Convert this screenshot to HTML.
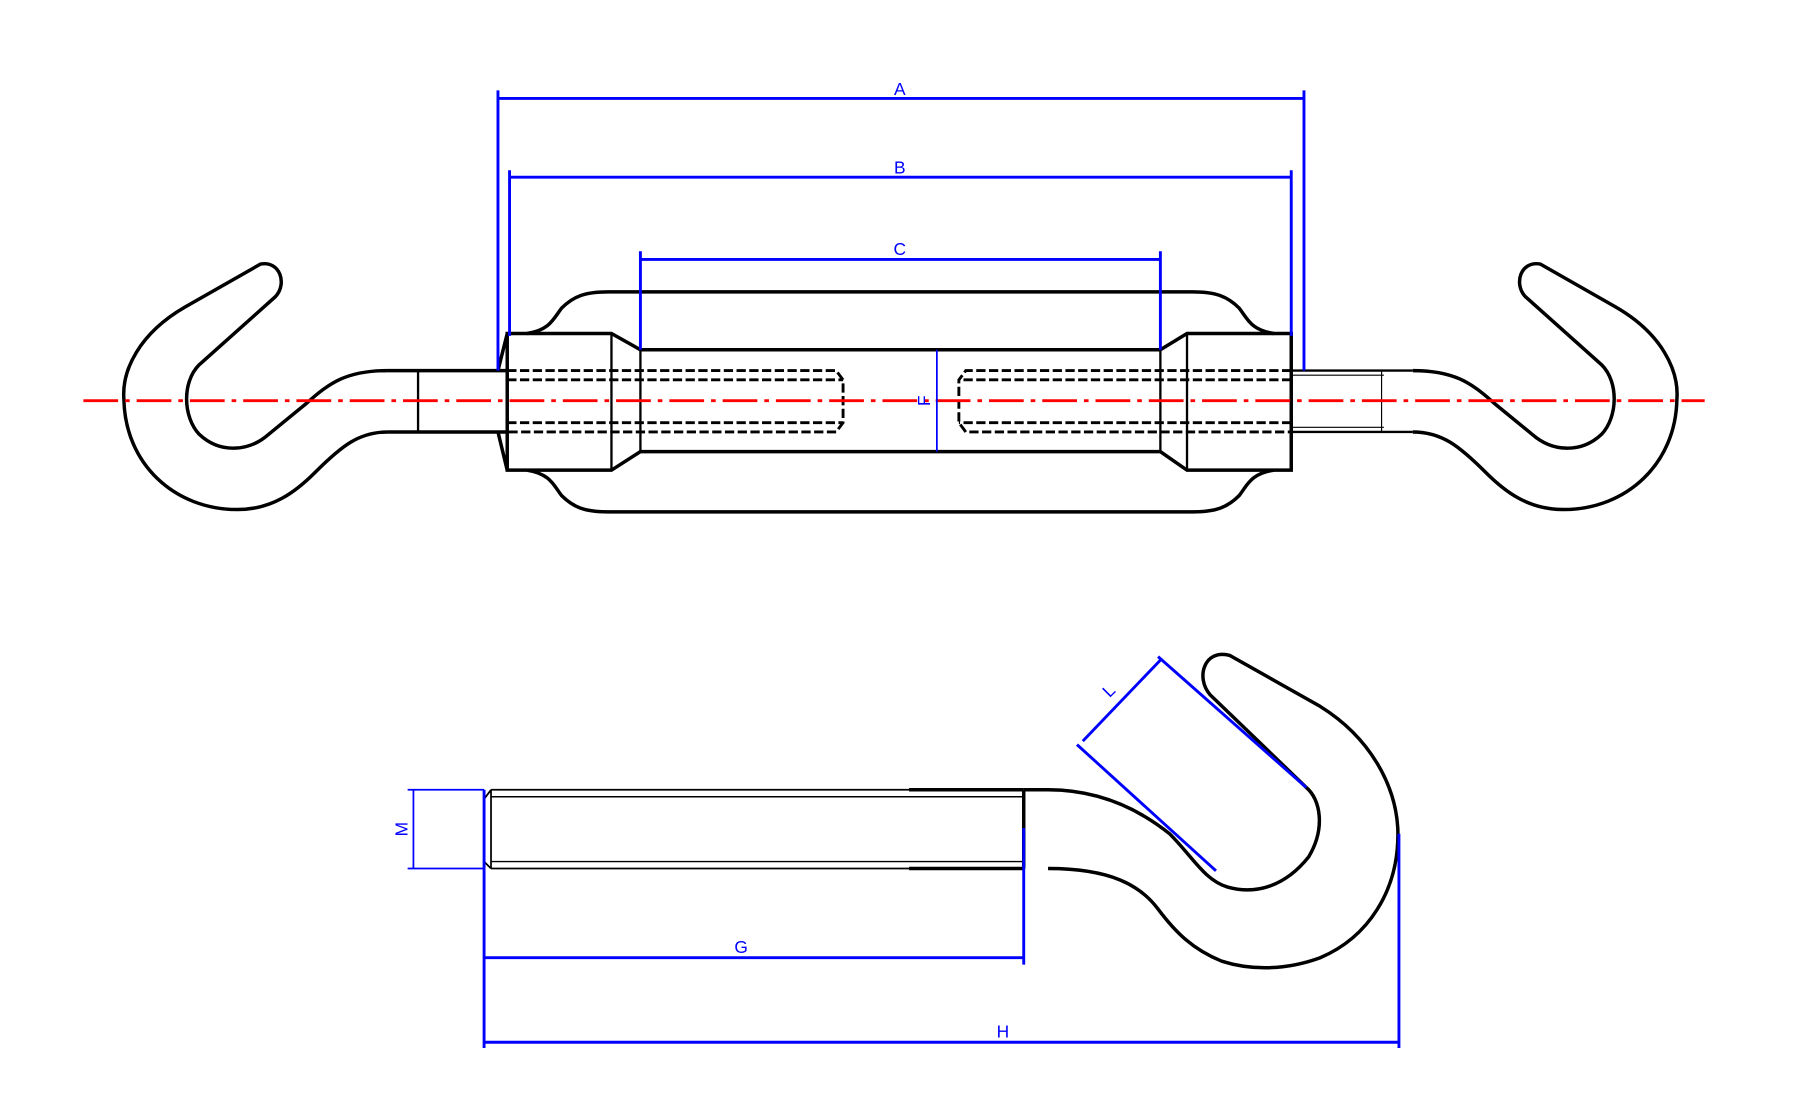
<!DOCTYPE html>
<html><head><meta charset="utf-8"><style>html,body{margin:0;padding:0;background:#fff}svg{display:block}</style></head>
<body>
<svg width="1795" height="1110" viewBox="0 0 1550 958.5" preserveAspectRatio="none" xmlns="http://www.w3.org/2000/svg" font-family="Liberation Sans, sans-serif">
<defs>
<g id="hook">
<path d="M335,320 C300,320 285,330 265,348 L232,375 C215,390 190,392 172,375 C158,360 157,330 172,315 L238,256 C248,245 242,225 225,228 L160,265 C120,288 105,320 107,345 C108,400 150,440 205,440 C235,440 255,425 272,408 C295,385 310,373 335,373" fill="none" stroke="#000" stroke-width="3"/>
</g>
</defs>
<!-- top view -->
<use href="#hook"/>
<g fill="none" stroke="#000" stroke-width="3">
<path d="M335,320 H438 M335,373 H438"/>
<path d="M361,320 V373" stroke-width="2"/>
<path d="M438,288 H528 L553,302 H1002 L1025,288 H1115 V406 H1025 L1002,390 H553 L528,406 H438 Z"/>
<path d="M430,320 L438,288 M430,373 L438,406"/>
<path d="M528,288 V406 M553,302 V390 M1002,302 V390 M1025,288 V406" stroke-width="2"/>
<path d="M455,288 C475,285 478,275 485,266 C495,256 505,252 525,252 H1030 C1050,252 1060,256 1070,266 C1077,275 1080,285 1100,288"/>
<path d="M455,406 C475,409 478,419 485,428 C495,438 505,442 525,442 H1030 C1050,442 1060,438 1070,428 C1077,419 1080,409 1100,406"/>
<path d="M438,320 H722 L728,328 V365 L722,373 H438 M438,328 H728 M438,365 H728" stroke-dasharray="8,3" stroke-width="2.5"/>
<path d="M1115,320 H834 L828,328 V365 L834,373 H1115 M1115,328 H828 M1115,365 H828" stroke-dasharray="8,3" stroke-width="2.5"/>
<path d="M1115,320 H1220 M1115,373 H1220" stroke-width="2"/>
<path d="M1115,324 H1195 M1115,369 H1195 M1193,320 V373" stroke-width="1"/>
</g>
<g transform="translate(1555,0) scale(-1,1)"><use href="#hook"/></g>
<path d="M72,346 H1472" stroke="#f00" stroke-width="2.5" stroke-dasharray="30,6,4,6"/>
<!-- top dims -->
<g stroke="#00f" stroke-width="2.5" fill="none">
<path d="M430,78 V320 M1126,78 V320 M430,85 H1126"/>
<path d="M440,147 V290 M1115,147 V290 M440,153 H1115"/>
<path d="M553,217 V302 M1002,217 V302 M553,224 H1002"/>
<path d="M809,302 V390" stroke-width="1.5"/>
</g>
<g fill="#00f" font-size="15" text-anchor="middle">
<text x="777" y="82">A</text><text x="777" y="150">B</text><text x="777" y="220">C</text>
<text x="0" y="0" transform="translate(803,346) rotate(-90)">F</text>
</g>
<!-- bottom view -->
<g fill="none" stroke="#000">
<path d="M424,682 H884 M424,750 H884" stroke-width="1.5"/>
<path d="M424,688 H884 M424,744 H884" stroke-width="1.2"/>
<path d="M418,690 L424,682 M418,690 V744 L424,750 M424,682 V750" stroke-width="1.5"/>
<path d="M785,682 H884 M785,750 H884 M884,682 V750" stroke-width="3"/>
<path d="M884,682 H905 C950,682 985,700 1010,720 C1030,740 1040,760 1060,766 C1085,773 1110,765 1130,740 C1145,715 1140,690 1128,680 L1045,600 C1032,585 1040,560 1062,566 L1140,610 C1185,638 1205,680 1207,715 C1209,770 1180,810 1140,827 C1110,838 1080,838 1055,830 C1030,820 1015,805 1000,785 C985,765 960,750 905,750" stroke-width="3"/>
</g>
<g stroke="#00f" stroke-width="2.5" fill="none">
<path d="M352,682 H418 M352,750 H418 M357,682 V750" stroke-width="1.5"/>
<path d="M418,682 V905 M884,715 V833 M418,827 H884"/>
<path d="M1208,720 V905 M418,900 H1208"/>
<path d="M1000,567 L1128,680 M930,643 L1050,752 M935,640 L1002,570"/>
</g>
<g fill="#00f" font-size="15" text-anchor="middle">
<text x="640" y="823">G</text><text x="866" y="896">H</text>
<text x="0" y="0" transform="translate(352,716) rotate(-90)">M</text>
<text x="0" y="0" transform="translate(961,600) rotate(-45)">L</text>
</g>
</svg>
</body></html>
